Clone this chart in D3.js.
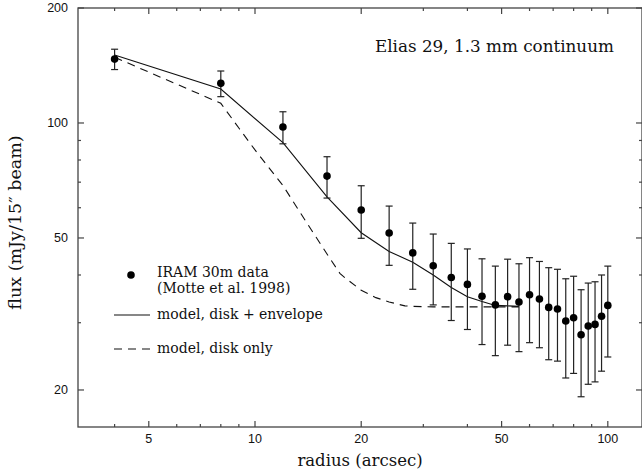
<!DOCTYPE html>
<html>
<head>
<meta charset="utf-8">
<script src="https://cdn.jsdelivr.net/npm/d3@7"></script>
<style>
    body { margin: 0; background: #fff; }
    svg { display: block; }
</style>
</head>
<body>
<div id="chart"></div>
<script>
// IRAM 30m data points (radius in arcsec, flux in mJy/15" beam)
var dataRadius = [4, 8, 12, 16, 20, 24, 28, 32, 36, 40, 44, 48, 52, 56, 60, 64, 68, 72, 76, 80, 84, 88, 92, 96, 100];
var dataFlux = [147, 127, 97.6, 72.6, 59.2, 51.5, 45.7, 42.3, 39.4, 37.8, 35.2, 33.4, 35.1, 34.0, 35.5, 34.6, 32.9, 32.6, 30.3, 30.9, 27.9, 29.4, 29.7, 31.2, 33.3];
var dataErr = [9, 9.8, 9.4, 9, 9.3, 9.1, 9, 8.9, 9, 9, 8.9, 8.8, 8.9, 8.8, 8.9, 8.8, 8.9, 8.8, 8.8, 8.8, 8.7, 8.7, 8.7, 8.8, 8.9];

// model: disk + envelope
var envRadius = [4, 8, 12, 16, 20, 24, 28, 32, 36, 40, 44, 48, 52, 56];
var envFlux = [150.7, 122.7, 88.8, 64.1, 51.6, 46.1, 43.2, 40.0, 37.1, 35.1, 34.1, 33.3, 33.2, 33.1];

// model: disk only
var diskRadius = [4, 8, 9, 10, 12, 14, 16, 17.4, 18, 20, 22, 24, 26.6, 28, 32, 40, 48, 56];
var diskFlux = [148.6, 112.6, 97, 85, 68.6, 54.9, 45.4, 40.4, 39.3, 36.5, 34.9, 34.0, 33.2, 33.1, 33.0, 33.0, 33.0, 33.0];

var xMajor = [5, 10, 20, 50, 100];
var xMinor = [4, 6, 7, 8, 9, 30, 40, 60, 70, 80, 90];
var yMajor = [20, 50, 100, 200];
var yMinor = [30, 40, 60, 70, 80, 90];

var width = 642;
var height = 473;
var margin = {top: 8, right: 0, bottom: 46, left: 78};
var serifFont = "'DejaVu Serif', serif";
var sansFont = "'Liberation Sans', Arial, sans-serif";

var svg = d3.select("#chart").append("svg")
    .attr("width", width)
    .attr("height", height);

// log scales on both axes
var xScale = d3.scaleLog().domain([3.15, 125]).range([margin.left, width - margin.right]);
var yScale = d3.scaleLog().domain([16, 200]).range([height - margin.bottom, margin.top]);

var x0 = xScale.range()[0], x1 = xScale.range()[1];
var y0 = yScale.range()[0], y1 = yScale.range()[1];

// frame
svg.append("rect")
    .attr("x", x0).attr("y", y1)
    .attr("width", x1 - x0).attr("height", y0 - y1)
    .attr("fill", "none")
    .attr("stroke", "#444")
    .attr("stroke-width", 1.3);

// ticks point inwards on all four sides
function addXTicks(values, len) {
    values.forEach(function (v) {
        var x = xScale(v);
        svg.append("line").attr("x1", x).attr("x2", x).attr("y1", y0).attr("y2", y0 - len)
            .attr("stroke", "#444").attr("stroke-width", 1.2);
        svg.append("line").attr("x1", x).attr("x2", x).attr("y1", y1).attr("y2", y1 + len)
            .attr("stroke", "#444").attr("stroke-width", 1.2);
    });
}
function addYTicks(values, len) {
    values.forEach(function (v) {
        var y = yScale(v);
        svg.append("line").attr("x1", x0).attr("x2", x0 + len).attr("y1", y).attr("y2", y)
            .attr("stroke", "#444").attr("stroke-width", 1.2);
        svg.append("line").attr("x1", x1).attr("x2", x1 - len).attr("y1", y).attr("y2", y)
            .attr("stroke", "#444").attr("stroke-width", 1.2);
    });
}
addXTicks(xMajor, 6);
addXTicks(xMinor, 3);
addYTicks(yMajor, 6);
addYTicks(yMinor, 3);

// tick labels
svg.selectAll("text.xTick").data(xMajor).enter()
    .append("text")
    .attr("font-family", sansFont)
    .attr("font-size", 12.5)
    .attr("fill", "#111")
    .attr("x", function (d) { return xScale(d); })
    .attr("y", y0 + 16)
    .attr("text-anchor", "middle")
    .text(function (d) { return d; });

svg.selectAll("text.yTick").data(yMajor).enter()
    .append("text")
    .attr("font-family", sansFont)
    .attr("font-size", 12.5)
    .attr("fill", "#111")
    .attr("x", x0 - 10)
    .attr("y", function (d) { return yScale(d); })
    .attr("dy", "0.35em")
    .attr("text-anchor", "end")
    .text(function (d) { return d; });

// axis titles
svg.append("text")
    .attr("font-family", serifFont)
    .attr("font-size", 16.5)
    .attr("fill", "#111")
    .attr("x", (x0 + x1) / 2)
    .attr("y", 466)
    .attr("text-anchor", "middle")
    .text("radius (arcsec)");

svg.append("text")
    .attr("font-family", serifFont)
    .attr("font-size", 17.5)
    .attr("fill", "#111")
    .attr("transform", "translate(21," + ((y0 + y1) / 2 + 5) + ") rotate(-90)")
    .attr("text-anchor", "middle")
    .text("flux (mJy/15\u2033 beam)");

svg.append("text")
    .attr("font-family", serifFont)
    .attr("font-size", 16.8)
    .attr("fill", "#111")
    .attr("x", 375)
    .attr("y", 52)
    .text("Elias 29, 1.3 mm continuum");

// model curves
var line = d3.line()
    .x(function (d) { return xScale(d[0]); })
    .y(function (d) { return yScale(d[1]); });

svg.append("path")
    .datum(d3.zip(envRadius, envFlux))
    .attr("d", line)
    .attr("fill", "none")
    .attr("stroke", "#111")
    .attr("stroke-width", 1.1);

svg.append("path")
    .datum(d3.zip(diskRadius, diskFlux))
    .attr("d", line)
    .attr("fill", "none")
    .attr("stroke", "#111")
    .attr("stroke-width", 1.1)
    .attr("stroke-dasharray", "8,6");

// error bars with caps
var points = d3.zip(dataRadius, dataFlux, dataErr);
var capW = 3.5;
var bars = svg.selectAll("g.err").data(points).enter().append("g");
bars.append("line")
    .attr("x1", function (d) { return xScale(d[0]); })
    .attr("x2", function (d) { return xScale(d[0]); })
    .attr("y1", function (d) { return yScale(d[1] + d[2]); })
    .attr("y2", function (d) { return yScale(d[1] - d[2]); });
bars.append("line")
    .attr("x1", function (d) { return xScale(d[0]) - capW; })
    .attr("x2", function (d) { return xScale(d[0]) + capW; })
    .attr("y1", function (d) { return yScale(d[1] + d[2]); })
    .attr("y2", function (d) { return yScale(d[1] + d[2]); });
bars.append("line")
    .attr("x1", function (d) { return xScale(d[0]) - capW; })
    .attr("x2", function (d) { return xScale(d[0]) + capW; })
    .attr("y1", function (d) { return yScale(d[1] - d[2]); })
    .attr("y2", function (d) { return yScale(d[1] - d[2]); });
bars.selectAll("line").attr("stroke", "#222").attr("stroke-width", 1.2);

// data points
svg.selectAll("circle.pt").data(points).enter()
    .append("circle")
    .attr("cx", function (d) { return xScale(d[0]); })
    .attr("cy", function (d) { return yScale(d[1]); })
    .attr("r", 3.8)
    .attr("fill", "#000");

// legend
var lg = svg.append("g")
    .attr("font-family", serifFont)
    .attr("font-size", 14)
    .attr("fill", "#111");
lg.append("circle").attr("cx", 131).attr("cy", 275).attr("r", 3.8).attr("fill", "#000");
lg.append("text").attr("x", 157).attr("y", 277).text("IRAM 30m data");
lg.append("text").attr("x", 157).attr("y", 293).text("(Motte et al. 1998)");
lg.append("line").attr("x1", 114).attr("x2", 150).attr("y1", 315).attr("y2", 315)
    .attr("stroke", "#111").attr("stroke-width", 1.1);
lg.append("text").attr("x", 157).attr("y", 319).text("model, disk + envelope");
lg.append("line").attr("x1", 114).attr("x2", 150).attr("y1", 349).attr("y2", 349)
    .attr("stroke", "#111").attr("stroke-width", 1.1).attr("stroke-dasharray", "8,6");
lg.append("text").attr("x", 157).attr("y", 353).text("model, disk only");
</script>
</body>
</html>
